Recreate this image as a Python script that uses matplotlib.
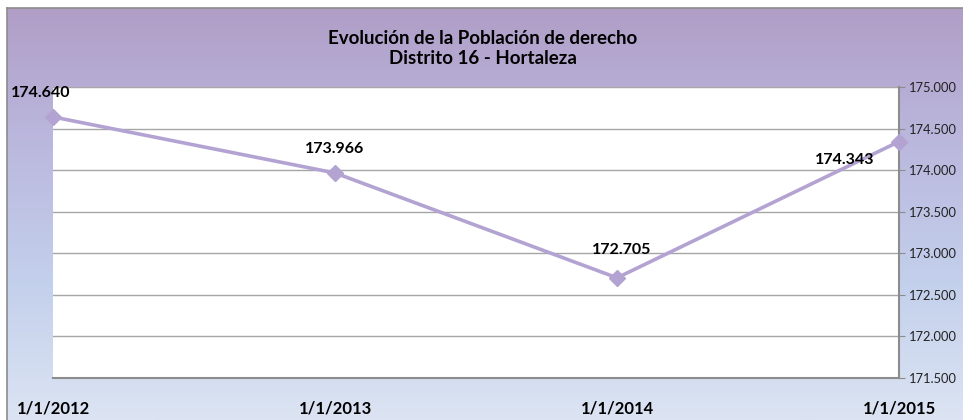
import numpy as np
import matplotlib.pyplot as plt
from matplotlib.colors import LinearSegmentedColormap
from matplotlib.ticker import FuncFormatter

plt.rcParams['font.family'] = ['Lato', 'DejaVu Sans']

fechas = ["1/1/2012", "1/1/2013", "1/1/2014", "1/1/2015"]
poblacion = [174640, 173966, 172705, 174343]
y_ticks = [171500, 172000, 172500, 173000, 173500, 174000, 174500, 175000]
# label offsets in points, per point
offsets = [(-9, 17), (0, 17), (3, 20), (-39, -13)]

W, H = 963, 420
fig = plt.figure(figsize=(W / 100, H / 100), dpi=100)

# gradient background panel
bg = fig.add_axes([7 / W, 0, (W - 7) / W, (H - 8) / H])
cmap = LinearSegmentedColormap.from_list(
    "bg", ["#B09EC7", "#BBB8DE", "#C3D0EC", "#DCE4F3"])
grad = np.linspace(0, 1, 256).reshape(-1, 1)
bg.imshow(grad, aspect="auto", cmap=cmap, extent=[0, 1, 0, 1], origin="upper")
bg.set_xticks([])
bg.set_yticks([])
for s in ["top", "left"]:
    bg.spines[s].set_color("#8C8C8C")
    bg.spines[s].set_linewidth(1.2)
for s in ["right", "bottom"]:
    bg.spines[s].set_visible(False)

fig.text(483 / W, 1 - 38 / H, "Evolución de la Población de derecho",
         ha="center", va="center", fontsize=13.5, fontweight="bold")
fig.text(483 / W, 1 - 58 / H, "Distrito 16 - Hortaleza",
         ha="center", va="center", fontsize=13.5, fontweight="bold")

ax = fig.add_axes([53 / W, 1 - 378 / H, 846 / W, 291 / H])
ax.set_facecolor("white")
x = np.arange(len(fechas))
ax.plot(x, poblacion, color="#B3A3D2", lw=2.6, marker="D", markersize=8,
        clip_on=False, zorder=3)
for xi, v, off in zip(x, poblacion, offsets):
    ax.annotate(f"{v:,}".replace(",", "."), (xi, v), xytext=off,
                textcoords="offset points", ha="center", va="center",
                fontsize=11.5, fontweight="bold", zorder=4)

ax.set_xlim(0, len(fechas) - 1)
ax.set_ylim(171500, 175000)
ax.set_xticks(x)
ax.set_xticklabels(fechas, fontsize=12, fontweight="bold")
ax.tick_params(axis="x", length=0, pad=16)
ax.yaxis.tick_right()
ax.set_yticks(y_ticks)
ax.yaxis.set_major_formatter(FuncFormatter(lambda v, p: f"{int(v):,}".replace(",", ".")))
ax.tick_params(axis="y", labelsize=9.3, length=4, color="#8C8C8C",
               labelcolor="#222222", pad=3)
ax.grid(axis="y", color="#A6A6A6", lw=1)
ax.set_axisbelow(True)
ax.spines["top"].set_visible(False)
ax.spines["left"].set_visible(False)
ax.spines["right"].set_color("#8C8C8C")
ax.spines["bottom"].set_color("#8C8C8C")
ax.spines["right"].set_linewidth(1.5)
ax.spines["bottom"].set_linewidth(1.5)

plt.savefig("out.png", dpi=100)
